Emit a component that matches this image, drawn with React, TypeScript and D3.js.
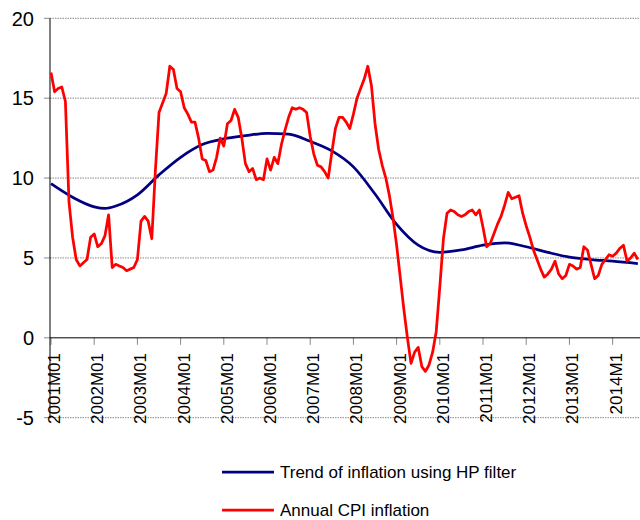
import * as d3 from 'd3';

// annual CPI inflation, monthly from 2001M01
const cpiInflation = [
  16.6, 15.4, 15.6, 15.7, 14.8, 8.5, 6.3, 4.9, 4.5, 4.7, 4.9, 6.3,
  6.5, 5.7, 5.9, 6.4, 7.7, 4.4, 4.6, 4.5, 4.4, 4.2, 4.3, 4.4,
  4.9, 7.3, 7.6, 7.3, 6.2, 10.5, 14.1, 14.7, 15.3, 17.0, 16.8, 15.6,
  15.4, 14.4, 14.0, 13.5, 13.5, 12.5, 11.2, 11.1, 10.4, 10.5, 11.3, 12.5,
  12.0, 13.4, 13.6, 14.3, 13.8, 12.5, 10.9, 10.4, 10.6, 9.9, 10.0, 9.9,
  11.2, 10.5, 11.3, 10.9, 12.1, 13.0, 13.8, 14.4, 14.3, 14.4, 14.3, 14.1,
  12.6, 11.5, 10.8, 10.7, 10.4, 10.0, 11.6, 13.1, 13.8, 13.8, 13.5, 13.1,
  14.0, 15.0, 15.6, 16.2, 17.0, 15.8, 13.4, 11.8, 10.8, 10.0, 8.9, 7.5,
  5.8, 3.8, 1.8, 0.0, -1.6, -0.9, -0.6, -1.8, -2.1, -1.7, -0.9, 0.4,
  3.2, 6.2, 7.8, 8.0, 7.9, 7.7, 7.6, 7.7, 7.9, 8.0, 7.7, 8.0,
  6.9, 5.7, 5.9, 6.5, 7.1, 7.6, 8.3, 9.1, 8.7, 8.8, 8.9, 7.8,
  7.0, 6.3, 5.5, 4.9, 4.3, 3.8, 4.0, 4.3, 4.8, 4.0, 3.7, 3.9,
  4.6, 4.5, 4.3, 4.4, 5.7, 5.5, 4.6, 3.7, 3.9, 4.6, 4.9, 5.2,
  5.1, 5.3, 5.6, 5.8, 4.8, 5.0, 5.3, 4.9,
];

// HP filter trend (month index from 2001M01)
const trendMonths = [0, 6, 12, 15, 18, 24, 30, 36, 42, 48, 54, 60, 66, 72, 78, 84, 90, 96, 102, 108, 114, 120, 126, 132, 138, 144, 150, 156, 163];
const trendValues = [9.65, 8.8, 8.2, 8.1, 8.25, 8.95, 10.2, 11.3, 12.1, 12.45, 12.65, 12.8, 12.75, 12.3, 11.7, 10.7, 9.0, 7.1, 5.8, 5.35, 5.5, 5.8, 5.95, 5.7, 5.35, 5.05, 4.9, 4.8, 4.65];

const tickLabels = ['2001M01', '2002M01', '2003M01', '2004M01', '2005M01', '2006M01', '2007M01', '2008M01', '2009M01', '2010M01', '2011M01', '2012M01', '2013M01', '2014M1'];
const yTicks = [-5, 0, 5, 10, 15, 20];

const seriesNames = ['Trend of inflation using HP filter', 'Annual CPI inflation'];
const seriesColors = ['#000080', '#ff0000'];

export default function App() {
  const width = 640, height = 520;
  const left = 50, right = 640;

  const x = d3.scaleLinear().domain([0, 163.6]).range([51, right]);
  const y = d3.scaleLinear().domain([-5, 20]).range([417.7, 18.3]);

  const cpiLine = d3.line<number>()
    .x((_, i) => x(i))
    .y(d => y(d));

  const trendLine = d3.line<number>()
    .x((_, i) => x(trendMonths[i]))
    .y(d => y(d))
    .curve(d3.curveMonotoneX);

  const font = "'Liberation Sans', Arial, sans-serif";

  return (
    <svg width={width} height={height} style={{ position: 'absolute', left: 0, top: 0, background: '#fff' }} fontFamily={font}>
      <defs>
        <clipPath id="plot">
          <rect x={left} y={0} width={right - left} height={430} />
        </clipPath>
      </defs>

      {/* gridlines and y ticks */}
      {yTicks.map(t => (
        <g key={t}>
          {t !== 0 && (
            <line x1={left} x2={right} y1={y(t)} y2={y(t)} stroke="#888" strokeWidth={1} strokeDasharray="1.5,1" />
          )}
          <line x1={44} x2={left} y1={y(t)} y2={y(t)} stroke="#888" />
          <text x={34} y={y(t)} dy="0.36em" textAnchor="end" fontSize={20} fill="#000">{t}</text>
        </g>
      ))}

      {/* x ticks and labels */}
      {tickLabels.map((lab, k) => {
        const px = x(k * 12);
        return (
          <g key={lab}>
            <line x1={px} x2={px} y1={y(0)} y2={y(0) + 7} stroke="#888" />
            <text transform={`translate(${px + 9},353) rotate(-90)`} textAnchor="end" fontSize={17} fill="#000">{lab}</text>
          </g>
        );
      })}

      {/* axes */}
      <line x1={left} x2={right} y1={y(0)} y2={y(0)} stroke="#000" />
      <line x1={left} x2={left} y1={y(20)} y2={y(-5)} stroke="#000" />

      <g clipPath="url(#plot)">
        <path d={trendLine(trendValues) || ''} fill="none" stroke={seriesColors[0]} strokeWidth={2.75} />
        <path d={cpiLine(cpiInflation) || ''} fill="none" stroke={seriesColors[1]} strokeWidth={2.75} strokeLinejoin="round" />
      </g>

      {/* legend */}
      {seriesNames.map((name, i) => (
        <g key={name} transform={`translate(222,${472 + i * 38})`}>
          <line x1={0} x2={52} y1={0} y2={0} stroke={seriesColors[i]} strokeWidth={2.75} />
          <text x={58} y={0} dy="0.36em" fontSize={17} fill="#000">{name}</text>
        </g>
      ))}
    </svg>
  );
}
